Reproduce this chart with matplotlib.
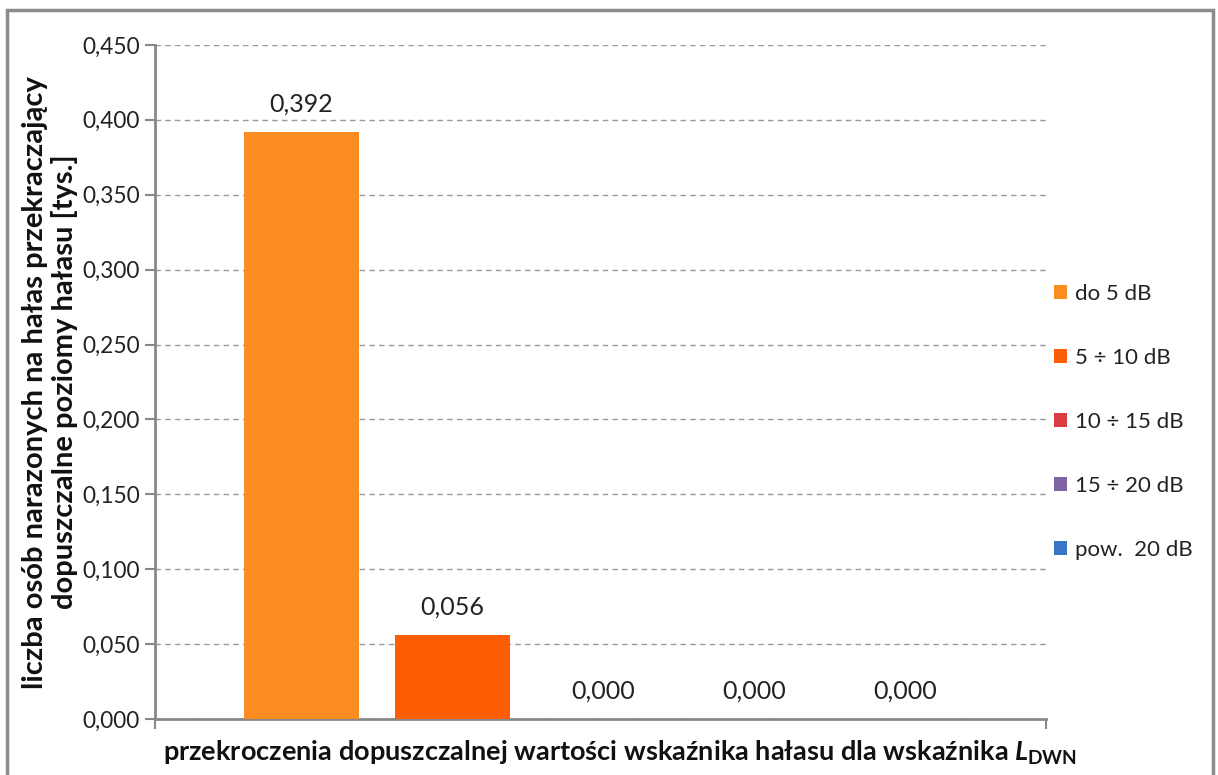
import numpy as np
import matplotlib.pyplot as plt
from matplotlib.patches import Rectangle
from matplotlib.ticker import FuncFormatter

plt.rcParams['font.family'] = ['Lato', 'DejaVu Sans']
plt.rcParams['mathtext.fontset'] = 'custom'
plt.rcParams['mathtext.it'] = 'Lato:italic:bold'
plt.rcParams['mathtext.bf'] = 'Lato:bold'
plt.rcParams['mathtext.rm'] = 'Lato:bold'

# Dane
kategorie = ["do 5 dB", "5 \u00f7 10 dB", "10 \u00f7 15 dB", "15 \u00f7 20 dB", "pow.  20 dB"]
wartosci = [0.392, 0.056, 0.000, 0.000, 0.000]
kolory = ["#FA8C22", "#FF5D05", "#DA3E40", "#8063A3", "#3A74C6"]
yticks = np.arange(0, 0.451, 0.05)

fig = plt.figure(figsize=(12.18, 7.75), dpi=100)
ax = fig.add_axes([155 / 1218, 0.0723, 891 / 1218, 0.8697])

x = np.arange(len(wartosci))
for i in range(len(wartosci)):
    ax.bar(x[i], wartosci[i], width=0.76, color=kolory[i], label=kategorie[i], zorder=3)
    ax.text(x[i], wartosci[i] + 0.011, f"{wartosci[i]:.3f}".replace(".", ","),
            ha="center", va="bottom", fontsize=18, color="#222222")

ax.set_xlim(-0.97, 4.93)
ax.set_ylim(0, 0.45)
ax.set_yticks(yticks)
ax.yaxis.set_major_formatter(FuncFormatter(lambda v, p: f"{v:.3f}".replace(".", ",")))
ax.tick_params(axis="y", labelsize=16.3, length=7, width=1.5, color="#888888", pad=4, labelcolor="#222222")
ax.set_xticks([])
ax.set_xticks([-0.97, 4.93], minor=True)
ax.tick_params(axis="x", which="minor", length=7, width=1.5, color="#888888")
ax.grid(axis="y", linestyle=(0, (4, 3)), color="#9a9a9a", linewidth=1, zorder=0)
for s in ["top", "right"]:
    ax.spines[s].set_visible(False)
for s in ["left", "bottom"]:
    ax.spines[s].set_color("#888888")
    ax.spines[s].set_linewidth(2)

fig.text(50 / 1218, 0.507,
         "liczba osób narazonych na hałas przekraczający\ndopuszczalne poziomy hałasu [tys.]",
         rotation=90, ha="center", va="center", fontsize=21, fontweight="bold",
         linespacing=1.15, color="#111111")
fig.text(620 / 1218, 0.029,
         r"przekroczenia dopuszczalnej wartości wskaźnika hałasu dla wskaźnika $\mathit{L}_{\mathbf{DWN}}$",
         ha="center", va="center", fontsize=19.5, fontweight="bold", color="#111111")

leg = ax.legend(loc="upper left", bbox_to_anchor=(0.858, 0.645), bbox_transform=fig.transFigure,
                frameon=False, fontsize=16, handlelength=0.6, handleheight=0.6,
                handletextpad=0.35, labelspacing=1.98, borderaxespad=0)
for t in leg.get_texts():
    t.set_color("#222222")

fig.patches.append(Rectangle((7 / 1218, -0.05), 1206 / 1218, 1.05 - 10 / 775,
                             transform=fig.transFigure, fill=False,
                             edgecolor="#8c8c8c", linewidth=2.5))

plt.savefig("out.png", dpi=100)
